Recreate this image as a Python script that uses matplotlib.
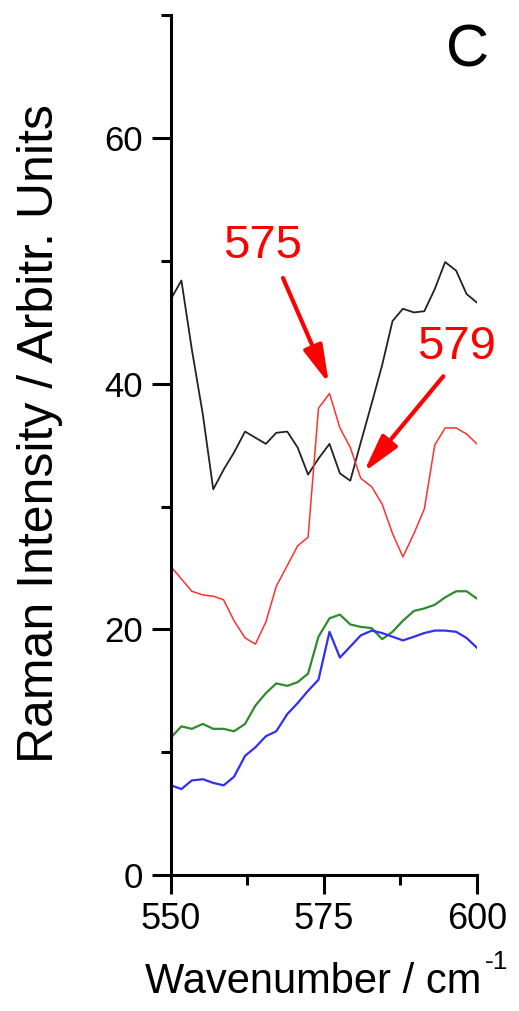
import numpy as np
import matplotlib
matplotlib.use("Agg")
import matplotlib.pyplot as plt
from matplotlib.ticker import MultipleLocator

plt.rcParams['font.family'] = ['Liberation Sans', 'DejaVu Sans']

# wavenumber grid (cm^-1)
wavenumber = [550.0, 551.7, 553.4, 555.2, 556.9, 558.6, 560.3, 562.1, 563.8, 565.5,
              567.2, 569.0, 570.7, 572.4, 574.1, 575.9, 577.6, 579.3, 581.0, 582.8,
              584.5, 586.2, 587.9, 589.7, 591.4, 593.1, 594.8, 596.6, 598.3, 600.0]

black = [46.9, 48.4, 42.8, 37.5, 31.4, 33.0, 34.4, 36.1, 35.6, 35.1,
         36.0, 36.1, 34.8, 32.6, 33.9, 35.1, 32.7, 32.1, 35.2, 38.4,
         41.5, 45.1, 46.1, 45.8, 45.9, 47.7, 49.9, 49.2, 47.3, 46.6]

red = [25.1, 24.1, 23.1, 22.8, 22.7, 22.4, 20.7, 19.3, 18.8, 20.6,
       23.5, 25.2, 26.8, 27.5, 38.0, 39.2, 36.4, 34.8, 32.3, 31.6,
       30.2, 27.8, 25.9, 27.8, 29.8, 35.0, 36.4, 36.4, 35.9, 35.1]

green = [11.2, 12.1, 11.9, 12.3, 11.9, 11.9, 11.7, 12.3, 13.8, 14.8,
         15.6, 15.4, 15.7, 16.4, 19.4, 20.9, 21.2, 20.4, 20.2, 20.1,
         19.2, 19.8, 20.7, 21.5, 21.7, 22.0, 22.6, 23.1, 23.1, 22.5]

blue = [7.3, 7.0, 7.7, 7.8, 7.5, 7.3, 8.0, 9.7, 10.4, 11.3,
        11.7, 13.1, 14.0, 15.0, 15.9, 19.8, 17.7, 18.6, 19.5, 19.9,
        19.7, 19.4, 19.1, 19.4, 19.7, 19.9, 19.9, 19.8, 19.3, 18.5]

# annotations: label, text position, arrow start, arrow tip
notes = [("575", (565.0, 51.2), (568.3, 48.6), (575.8, 40.0)),
         ("579", (596.6, 43.0), (594.5, 40.6), (581.5, 32.8))]


def main():
    fig = plt.figure(figsize=(5.19, 10.11), dpi=100)
    ax = fig.add_axes([0.3295, 0.1345, 0.5895, 0.8505])

    ax.plot(wavenumber, black, color="#222222", lw=1.3)
    ax.plot(wavenumber, red, color="#ff3030", lw=1.1)
    ax.plot(wavenumber, green, color="#2e8b2e", lw=1.6)
    ax.plot(wavenumber, blue, color="#2f2ff5", lw=1.6)

    red_c = "#ff0000"
    for label, tpos, start, tip in notes:
        ax.text(tpos[0], tpos[1], label, color=red_c, fontsize=34,
                ha="center", va="center")
        ax.annotate("", xy=tip, xytext=start,
                    arrowprops=dict(arrowstyle="-|>,head_length=2.3,head_width=0.6",
                                    color=red_c, lw=3.0, shrinkA=0, shrinkB=0))

    ax.text(598.5, 67.1, "C", fontsize=43, ha="center", va="center")

    ax.set_xlim(550, 600)
    ax.set_ylim(0, 70)
    ax.xaxis.set_major_locator(MultipleLocator(25))
    ax.xaxis.set_minor_locator(MultipleLocator(12.5))
    ax.yaxis.set_major_locator(MultipleLocator(20))
    ax.yaxis.set_minor_locator(MultipleLocator(10))
    ax.set_yticks([0, 20, 40, 60])

    for s in ["top", "right"]:
        ax.spines[s].set_visible(False)
    for s in ["left", "bottom"]:
        ax.spines[s].set_linewidth(2.2)
    ax.tick_params(which="major", length=13.5, width=2.2, labelsize=25, pad=7)
    ax.tick_params(axis="x", which="major", labelsize=26, pad=6)
    ax.tick_params(which="minor", length=7, width=2.2)

    # axis titles
    fig.text(40 / 519, 1 - 434 / 1011, "Raman Intensity / Arbitr. Units",
             fontsize=36, rotation=90, ha="center", va="center")
    fig.text(313 / 519, 1 - 982 / 1011, "Wavenumber / cm",
             fontsize=30, ha="center", va="center")
    fig.text(497 / 519, 1 - 962 / 1011, "-1", fontsize=19,
             ha="center", va="center")

    fig.savefig("out.png", dpi=100)


if __name__ == '__main__':
    main()
